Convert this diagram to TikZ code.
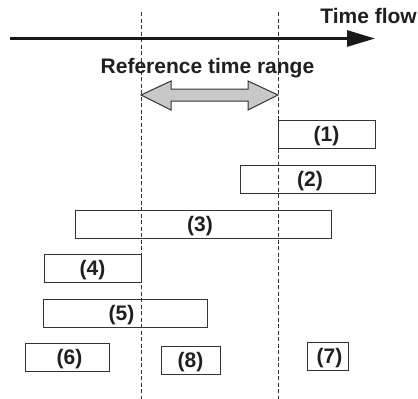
\documentclass[tikz,border=0pt]{standalone}
\usepackage{fontspec}
\newfontfamily\lblfont{Liberation Sans}
\usetikzlibrary{arrows.meta}
\definecolor{edge}{HTML}{333333}
\definecolor{arrowfill}{HTML}{C8C8C8}
\tikzset{
  period/.style={draw=edge, line width=1.3pt, fill=none, inner sep=0pt, anchor=north west},
  lbl/.style={font=\lblfont\bfseries\fontsize{21}{23}\selectfont, text=black!88, inner sep=0pt, anchor=base},
  guide/.style={draw=black!80, line width=1pt, dash pattern=on 4pt off 2.5pt},
}
\begin{document}
\begin{tikzpicture}[x=1pt,y=-1pt]
\useasboundingbox (0,0) rectangle (418,399);
% guides
\coordinate (g1t) at (141,12); \coordinate (g1b) at (141,399);
\coordinate (g2t) at (278,12); \coordinate (g2b) at (278,399);
\draw[guide] (g1t) -- (g1b);
\draw[guide] (g2t) -- (g2b);
% time flow arrow
\coordinate (ts) at (10,38.5);
\coordinate (te) at (375,38.5);
\draw[line width=2.6pt, black!90, -{Triangle[length=28pt,width=16pt]}] (ts) -- (te);
\node[lbl, anchor=base east] (tf) at (417,23) {Time flow};
\node[lbl] (rtr) at (207.5,73.5) {Reference time range};
% double arrow
\filldraw[fill=arrowfill, draw=edge, line width=1pt]
  (141,95) -- (171,81) -- (171,89) -- (248,89) -- (248,81) -- (278,95)
  -- (248,110) -- (248,101) -- (171,101) -- (171,110) -- cycle;
% boxes
\node[period, minimum width=97pt, minimum height=28pt] (b1) at (278,120) {};
\node[period, minimum width=135pt, minimum height=28pt] (b2) at (240,165) {};
\node[period, minimum width=256pt, minimum height=28pt] (b3) at (75,210) {};
\node[period, minimum width=97pt, minimum height=28pt] (b4) at (44,254) {};
\node[period, minimum width=164pt, minimum height=28pt] (b5) at (43,299) {};
\node[period, minimum width=84pt, minimum height=28pt] (b6) at (25,343) {};
\node[period, minimum width=59pt, minimum height=28pt] (b8) at (161,346) {};
\node[period, minimum width=41pt, minimum height=28pt] (b7) at (307,342) {};
% labels
\node[lbl] (l1) at (326.5,141.5) {(1)};
\node[lbl] (l2) at (310,186.5) {(2)};
\node[lbl] (l3) at (200,231.5) {(3)};
\node[lbl] (l4) at (92.5,275.5) {(4)};
\node[lbl] (l5) at (121.5,320.5) {(5)};
\node[lbl] (l6) at (69.5,364.5) {(6)};
\node[lbl] (l8) at (190.5,367.5) {(8)};
\node[lbl] (l7) at (329.5,363.5) {(7)};
\end{tikzpicture}
\end{document}
